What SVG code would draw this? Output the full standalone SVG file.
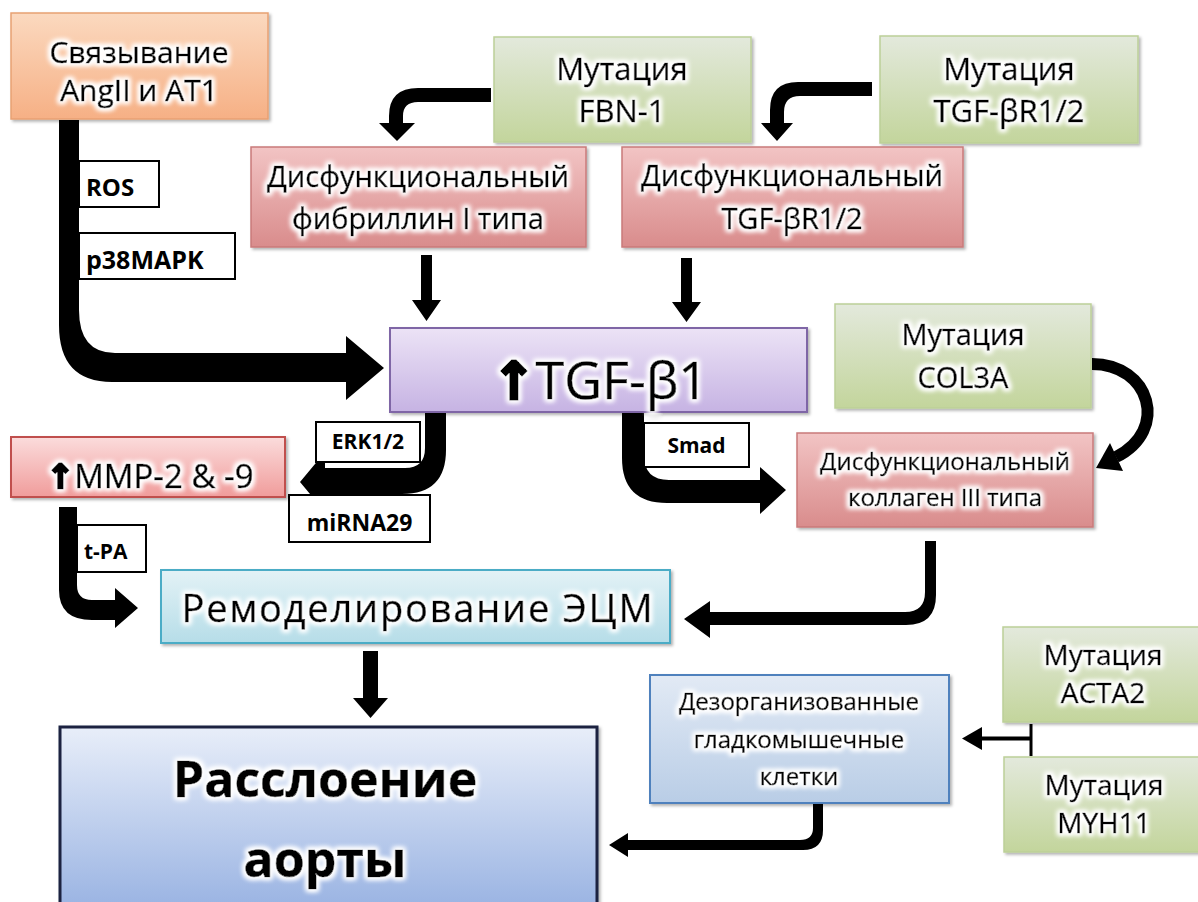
<svg xmlns="http://www.w3.org/2000/svg" width="1198" height="902" viewBox="0 0 1198 902">
<defs>
<style>
.t{font-family:"Open Sans","Noto Sans","DejaVu Sans",sans-serif;fill:#000;stroke:#000;stroke-width:0.6;text-anchor:middle;filter:url(#glow)}
.lb{font-family:"Open Sans","Noto Sans","DejaVu Sans",sans-serif;font-weight:bold;fill:#000}
.lbox{fill:#fff;stroke:#000;stroke-width:2}
.box{filter:url(#shadow)}
.arr{fill:#000;stroke:none}
</style>
<linearGradient id="gOr" x1="0" y1="0" x2="0" y2="1"><stop offset="0" stop-color="#fbd9bf"/><stop offset="1" stop-color="#f6b085"/></linearGradient>
<linearGradient id="gGr" x1="0" y1="0" x2="0" y2="1"><stop offset="0" stop-color="#e3e9dc"/><stop offset="1" stop-color="#c3d59c"/></linearGradient>
<linearGradient id="gPk" x1="0" y1="0" x2="0" y2="1"><stop offset="0" stop-color="#f2c4c4"/><stop offset="1" stop-color="#d98c8c"/></linearGradient>
<linearGradient id="gPu" x1="0" y1="0" x2="0" y2="1"><stop offset="0" stop-color="#ece3f6"/><stop offset="1" stop-color="#c6b3e3"/></linearGradient>
<linearGradient id="gRd" x1="0" y1="0" x2="0" y2="1"><stop offset="0" stop-color="#fbdcdc"/><stop offset="1" stop-color="#f09c9b"/></linearGradient>
<linearGradient id="gCy" x1="0" y1="0" x2="0" y2="1"><stop offset="0" stop-color="#e3f2f6"/><stop offset="1" stop-color="#b6dde8"/></linearGradient>
<linearGradient id="gBl" x1="0" y1="0" x2="0" y2="1"><stop offset="0" stop-color="#e2eaf5"/><stop offset="1" stop-color="#b9cde6"/></linearGradient>
<linearGradient id="gBig" x1="0" y1="0" x2="0" y2="1"><stop offset="0" stop-color="#e8eef9"/><stop offset="1" stop-color="#98b2e2"/></linearGradient>
<filter id="glow" x="-10%" y="-40%" width="120%" height="180%">
<feMorphology in="SourceAlpha" operator="dilate" radius="1.5" result="d"/>
<feGaussianBlur in="d" stdDeviation="2.5" result="b"/>
<feFlood flood-color="#ffffff" flood-opacity="1"/>
<feComposite in2="b" operator="in" result="g"/>
<feMerge><feMergeNode in="g"/><feMergeNode in="g"/><feMergeNode in="SourceGraphic"/></feMerge>
</filter>
<filter id="shadow" x="-5%" y="-10%" width="112%" height="125%">
<feDropShadow dx="2" dy="2" stdDeviation="1.5" flood-color="#000" flood-opacity="0.3"/>
</filter>
</defs>
<rect width="1198" height="902" fill="#fff"/>

<g id="connectors">
<path class="arr" d="M59,120 H79 V310 Q79,353 115,353 H346 V336 L384,368 L346,400 V382 H112 Q59,382 59,325 Z"/>
<path class="arr" d="M491,88 V102 H418 Q403,102 403,116 V123 H415 L397,141 L379,123 H389 V116 Q389,88 418,88 Z"/>
<path class="arr" d="M872,82 V96 H800 Q784,96 784,112 V123 H793 L777,141 L761,123 H770 V110 Q770,82 798,82 Z"/>
<path class="arr" d="M421,255 H432 V300 H441 L426.5,321 L412,300 H421 Z"/>
<path class="arr" d="M681,258 H692 V302 H701 L686.5,322 L672,302 H681 Z"/>
<path class="arr" d="M425,412 H446 V450 Q446,494 402,494 H325 V512 L300,482 L325,452 V468 H405 Q425,468 425,448 Z"/>
<path class="arr" d="M622,412 H644 V455 Q644,480 669,480 H760 V467 L786,490 L760,514 V503 H667 Q622,503 622,458 Z"/>
<path d="M1092,364 C1150,364 1170,430 1116,457" fill="none" stroke="#000" stroke-width="12"/>
<polygon class="arr" points="1096,468 1110,443 1123,471"/>
<path class="arr" d="M59,507 H77 V585 Q77,600 92,600 H115 V588 L138,608 L115,628 V620 H92 Q59,620 59,590 Z"/>
<path class="arr" d="M925,541 H936 V595 Q936,625 906,625 H710 V638 L684,619 L710,601 V612 H905 Q925,612 925,592 Z"/>
<path class="arr" d="M363,651 H378 V698 H388 L370.5,718 L353,698 H363 Z"/>
<line x1="1031" y1="724" x2="1031" y2="756" stroke="#000" stroke-width="3"/>
<line x1="1031" y1="738.5" x2="978" y2="738.5" stroke="#000" stroke-width="4"/>
<polygon class="arr" points="982,727 962,738.5 982,750"/>
<path class="arr" d="M813,803 H823 V830 Q823,850 803,850 H628 V857 L609,845 L628,833 V840 H800 Q813,840 813,828 Z"/>

<rect class="lbox" x="79" y="161" width="80" height="46"/>
<text class="lb" x="86" y="196" font-size="24">ROS</text>
<rect class="lbox" x="79" y="233" width="156" height="46"/>
<text class="lb" x="86" y="269" font-size="25">p38MAPK</text>
<rect class="lbox" x="316" y="422" width="104" height="40"/>
<text class="lb" x="368" y="449" font-size="21" text-anchor="middle">ERK1/2</text>
<rect class="lbox" x="289" y="495" width="141" height="47"/>
<text class="lb" x="359.5" y="531" font-size="23" text-anchor="middle">miRNA29</text>
<rect class="lbox" x="644" y="423" width="105" height="44"/>
<text class="lb" x="696.5" y="453" font-size="21" text-anchor="middle">Smad</text>
<rect class="lbox" x="77" y="525" width="69" height="47"/>
<text class="lb" x="84" y="559" font-size="21">t-PA</text>
</g>

<g id="n-angii" class="box">
<rect x="11" y="13" width="257" height="106" fill="url(#gOr)" stroke="#e8a173" stroke-width="1.5"/>
<text class="t" x="139" y="63" font-size="30">Связывание</text>
<text class="t" x="139" y="101" font-size="30">AngII и AT1</text>
</g>
<g id="n-fbn" class="box">
<rect x="494" y="37" width="257" height="105" fill="url(#gGr)" stroke="#bccf98" stroke-width="1.5"/>
<text class="t" x="622" y="80" font-size="31">Мутация</text>
<text class="t" x="622" y="122" font-size="31">FBN-1</text>
</g>
<g id="n-tgfbr-mut" class="box">
<rect x="880" y="36" width="258" height="107" fill="url(#gGr)" stroke="#bccf98" stroke-width="1.5"/>
<text class="t" x="1009" y="80" font-size="31">Мутация</text>
<text class="t" x="1009" y="122" font-size="31">TGF-βR1/2</text>
</g>
<g id="n-fibrillin" class="box">
<rect x="251" y="147" width="335" height="100" fill="url(#gPk)" stroke="#c97a7a" stroke-width="1.5"/>
<text class="t" x="418" y="187" font-size="29">Дисфункциональный</text>
<text class="t" x="418" y="229" font-size="29">фибриллин I типа</text>
</g>
<g id="n-tgfbr-dys" class="box">
<rect x="622" y="147" width="341" height="100" fill="url(#gPk)" stroke="#c97a7a" stroke-width="1.5"/>
<text class="t" x="792" y="186" font-size="29">Дисфункциональный</text>
<text class="t" x="792" y="229" font-size="29">TGF-βR1/2</text>
</g>
<g id="n-tgfb1" class="box">
<rect x="390" y="328" width="417" height="84" fill="url(#gPu)" stroke="#7f66a6" stroke-width="2"/>
<text class="t" x="600" y="399" font-size="52"><tspan font-weight="bold" stroke="#000" stroke-width="3" font-family="DejaVu Sans, sans-serif">↑</tspan>TGF-β1</text>
</g>
<g id="n-col3a" class="box">
<rect x="835" y="304" width="256" height="104" fill="url(#gGr)" stroke="#bccf98" stroke-width="1.5"/>
<text class="t" x="963" y="345" font-size="29">Мутация</text>
<text class="t" x="963" y="388" font-size="29">COL3A</text>
</g>
<g id="n-collagen" class="box">
<rect x="797" y="433" width="296" height="94" fill="url(#gPk)" stroke="#c97a7a" stroke-width="1.5"/>
<text class="t" x="945" y="470" font-size="24">Дисфункциональный</text>
<text class="t" x="945" y="506" font-size="24">коллаген III типа</text>
</g>
<g id="n-mmp" class="box">
<rect x="11" y="437" width="274" height="60" fill="url(#gRd)" stroke="#c0504d" stroke-width="2"/>
<text class="t" x="150" y="488" font-size="33"><tspan font-weight="bold" stroke="#000" stroke-width="2.5" font-family="DejaVu Sans, sans-serif">↑</tspan>MMP-2 &amp; -9</text>
</g>
<g id="n-ecm" class="box">
<rect x="161" y="570" width="509" height="73" fill="url(#gCy)" stroke="#4bacc6" stroke-width="2"/>
<text class="t" x="418" y="622" font-size="38" letter-spacing="1.8">Ремоделирование ЭЦМ</text>
</g>
<g id="n-dissection" class="box">
<rect x="60" y="727" width="537" height="185" fill="url(#gBig)" stroke="#1b2140" stroke-width="3"/>
<text class="t" x="325" y="797" font-size="50" font-weight="bold">Расслоение</text>
<text class="t" x="325" y="877" font-size="50" font-weight="bold">аорты</text>
</g>
<g id="n-smc" class="box">
<rect x="650" y="675" width="299" height="128" fill="url(#gBl)" stroke="#4f81bd" stroke-width="2"/>
<text class="t" x="799" y="710" font-size="24">Дезорганизованные</text>
<text class="t" x="799" y="748" font-size="24">гладкомышечные</text>
<text class="t" x="799" y="785" font-size="24">клетки</text>
</g>
<g id="n-acta2" class="box">
<rect x="1003" y="627" width="205" height="95" fill="url(#gGr)" stroke="#bccf98" stroke-width="1.5"/>
<text class="t" x="1103" y="665" font-size="28">Мутация</text>
<text class="t" x="1103" y="703" font-size="28">ACTA2</text>
</g>
<g id="n-myh11" class="box">
<rect x="1004" y="757" width="205" height="95" fill="url(#gGr)" stroke="#bccf98" stroke-width="1.5"/>
<text class="t" x="1104" y="795" font-size="28">Мутация</text>
<text class="t" x="1104" y="833" font-size="28">MYH11</text>
</g>
</svg>
